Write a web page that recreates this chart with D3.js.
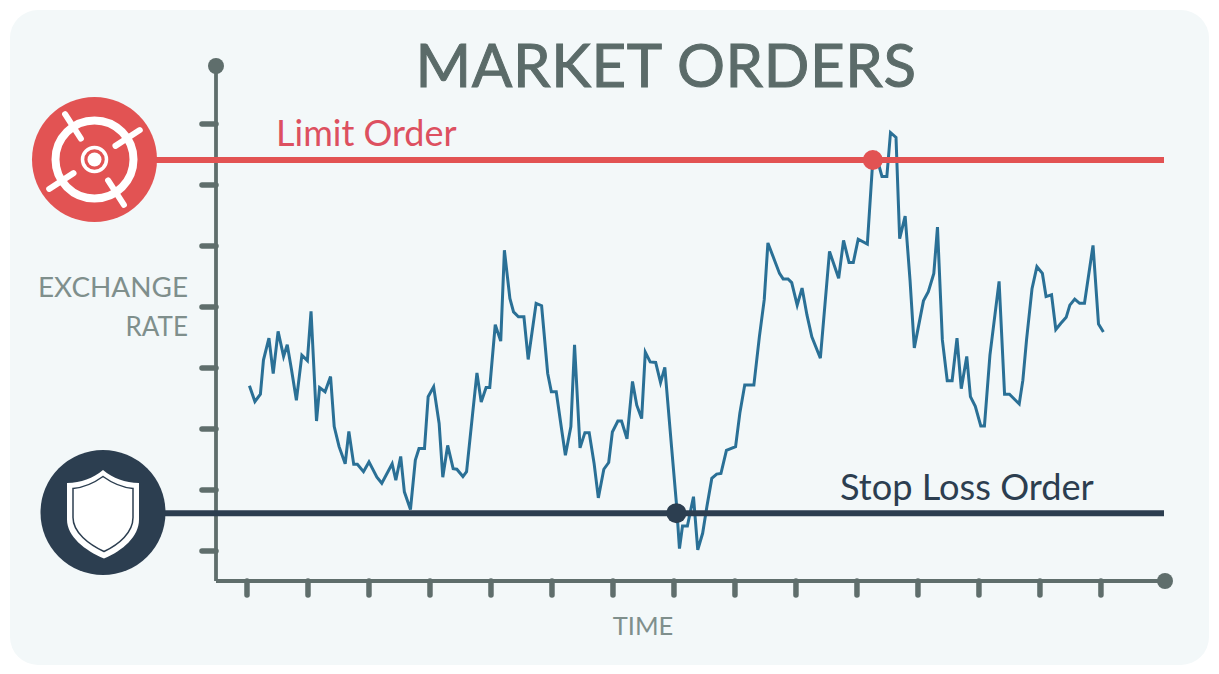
<!DOCTYPE html>
<html>
<head>
<meta charset="utf-8">
<script src="https://cdn.jsdelivr.net/npm/d3@7"></script>
<style>
  html, body { margin: 0; padding: 0; background: #fff; }
  svg { display: block; }
  text { font-family: Lato, "Open Sans", sans-serif; }
</style>
</head>
<body>
<div id="chart"></div>
<script>
// values, one axis tick = 10 units
const times = [
  0.4, 1.3, 2.2, 2.7, 3.6, 4.3, 5.1, 6.0, 6.6, 7.3, 8.1, 9.0, 9.9, 10.5, 11.4, 11.9, 12.8, 13.7, 14.3, 15.1,
  16.1, 16.7, 17.5, 18.1, 19.1, 20.0, 21.3, 22.1, 23.8, 24.4, 25.2, 25.8, 26.8, 27.6, 28.2, 29.1, 29.7, 30.6, 31.5, 32.1,
  32.9, 33.8, 34.4, 35.4, 36.0, 37.0, 37.7, 38.4, 39.2, 39.8, 40.7, 41.6, 42.2, 43.1, 43.7, 44.5, 45.4, 46.1, 47.4, 48.3,
  49.3, 49.9, 50.7, 51.6, 52.2, 53.1, 53.7, 54.6, 55.4, 56.1, 56.9, 57.6, 58.5, 59.3, 59.9, 60.8, 61.4, 62.3, 63.2, 63.9,
  64.7, 65.3, 66.1, 67.0, 67.8, 68.5, 69.6, 70.4, 70.9, 71.4, 72.2, 73.2, 73.9, 74.7, 75.4, 76.2, 77.0, 77.7, 78.6, 80.1,
  80.8, 81.6, 83.1, 84.0, 84.8, 85.4, 87.3, 87.9, 88.7, 89.3, 90.2, 91.0, 91.8, 92.6, 94.0, 95.5, 97.0, 97.8, 98.7, 99.4,
  100.2, 101.7, 102.6, 103.1, 104.1, 104.9, 105.5, 106.4, 107.0, 107.9, 108.7, 109.4, 110.9, 111.7, 112.6, 113.2, 114.0, 114.8, 115.6, 116.4,
  117.1, 118.0, 118.6, 119.4, 120.3, 120.9, 121.8, 123.3, 124.2, 125.0, 126.6, 127.2, 127.8, 128.7, 129.5, 130.4, 131.0, 131.9, 132.6, 133.4,
  134.3, 134.9, 135.7, 136.5, 137.3, 138.7, 139.6, 140.4
]
const rates = [
  27.1, 24.5, 25.7, 31.3, 34.9, 29.1, 36.0, 31.9, 33.8, 29.7, 24.7, 32.1, 31.2, 39.3, 21.3, 26.8, 26.1, 28.6, 20.4, 17.1,
  14.3, 19.6, 14.2, 14.2, 13.0, 14.6, 12.1, 11.1, 14.3, 11.6, 15.5, 9.7, 6.8, 14.9, 16.8, 16.8, 25.3, 26.9, 20.9, 12.1,
  17.3, 13.5, 13.4, 12.2, 13.0, 22.6, 29.2, 24.4, 26.8, 26.8, 37.1, 34.4, 49.3, 41.4, 39.2, 38.4, 38.4, 31.4, 40.6, 40.2,
  29.1, 26.1, 26.1, 19.8, 15.7, 20.4, 33.8, 16.9, 19.4, 19.4, 14.4, 8.7, 13.4, 14.5, 19.5, 21.3, 21.3, 18.4, 27.8, 23.9,
  21.7, 32.6, 31.0, 30.9, 27.6, 30.1, 17.1, 7.8, 0.4, 4.1, 4.1, 8.9, 0.2, 2.9, 7.3, 11.9, 12.6, 12.7, 16.5, 17.1,
  22.6, 27.2, 27.2, 35.1, 41.2, 50.5, 45.5, 44.6, 44.6, 44.0, 40.3, 43.1, 38.7, 35.1, 31.6, 49.1, 44.7, 50.9, 47.3, 47.3,
  51.1, 50.3, 64.1, 65.0, 61.4, 61.4, 68.6, 67.8, 51.2, 54.9, 44.4, 33.3, 41.0, 42.5, 45.5, 53.1, 34.6, 27.9, 27.9, 34.9,
  26.6, 31.9, 25.3, 23.7, 20.5, 20.5, 32.1, 44.2, 25.7, 25.7, 24.1, 28.0, 34.6, 43.0, 46.6, 45.5, 41.7, 42.0, 36.3, 37.3,
  38.3, 40.3, 41.3, 40.6, 40.6, 50.1, 37.2, 35.9
]
const timeTicks = [0, 10, 20, 30, 40, 50, 60, 70, 80, 90, 100, 110, 120, 130, 140]
const rateTicks = [0, 10, 20, 30, 40, 50, 60, 70]
const limitRate = 64.1
const stopRate = 6.2
const limitHit = {time: 102.6, rate: 64.1}
const stopHit = {time: 70.4, rate: 6.2}

const red = "#e25353"
const navy = "#2c3e50"
const axisColor = "#5f6e6c"

const svg = d3.select("#chart").append("svg")
    .attr("width", 1219)
    .attr("height", 674)

svg.append("rect")
    .attr("x", 10).attr("y", 10)
    .attr("width", 1199).attr("height", 655)
    .attr("rx", 28)
    .attr("fill", "#f3f8f9")

// scales run past the ticks so the axis lines reach the end dots
const x = d3.scaleLinear().domain([-5.08, 150.5]).range([216, 1165])
const y = d3.scaleLinear().domain([-4.92, 79.5]).range([581, 66])

const xAxis = d3.axisBottom(x).tickValues(timeTicks).tickFormat("").tickSizeInner(14).tickSizeOuter(0).offset(0)
const yAxis = d3.axisLeft(y).tickValues(rateTicks).tickFormat("").tickSizeInner(14).tickSizeOuter(0).offset(0)

const gx = svg.append("g").attr("transform", `translate(0,${y.range()[0]})`).call(xAxis)
const gy = svg.append("g").attr("transform", `translate(${x.range()[0]},0)`).call(yAxis)

gx.select(".domain").attr("stroke", axisColor).attr("stroke-width", 3.8)
gy.select(".domain").attr("stroke", axisColor).attr("stroke-width", 3.8)
gx.selectAll(".tick line").attr("stroke", axisColor).attr("stroke-width", 5.5).attr("stroke-linecap", "round")
gy.selectAll(".tick line").attr("stroke", axisColor).attr("stroke-width", 5.5).attr("stroke-linecap", "round")

svg.append("circle").attr("cx", x.range()[0]).attr("cy", y.range()[1]).attr("r", 8).attr("fill", axisColor)
svg.append("circle").attr("cx", x.range()[1]).attr("cy", y.range()[0]).attr("r", 8).attr("fill", axisColor)

// price line
const line = d3.line()
    .x(d => x(d[0]))
    .y(d => y(d[1]))

svg.append("path")
    .datum(d3.zip(times, rates))
    .attr("d", line)
    .attr("fill", "none")
    .attr("stroke", "#2a7096")
    .attr("stroke-width", 3)
    .attr("stroke-linejoin", "miter")

// order levels
svg.append("line")
    .attr("x1", 150).attr("x2", 1164)
    .attr("y1", y(limitRate)).attr("y2", y(limitRate))
    .attr("stroke", red).attr("stroke-width", 6)
svg.append("line")
    .attr("x1", 150).attr("x2", 1164)
    .attr("y1", y(stopRate)).attr("y2", y(stopRate))
    .attr("stroke", navy).attr("stroke-width", 6)

svg.append("circle").attr("cx", x(limitHit.time)).attr("cy", y(limitHit.rate)).attr("r", 10).attr("fill", red)
svg.append("circle").attr("cx", x(stopHit.time)).attr("cy", y(stopHit.rate)).attr("r", 10).attr("fill", navy)

// target icon
const target = svg.append("g").attr("transform", "translate(94.5,159.5)")
target.append("circle").attr("r", 62.5).attr("fill", red)
target.append("circle").attr("r", 39).attr("fill", "none").attr("stroke", "#fff").attr("stroke-width", 8)
target.append("circle").attr("r", 12).attr("fill", "none").attr("stroke", "#fff").attr("stroke-width", 3.5)
target.append("circle").attr("r", 7).attr("fill", "#fff")
target.selectAll("line.notch")
    .data([-123, -33, 57, 147])
    .join("line")
    .attr("class", "notch")
    .attr("x1", 25).attr("x2", 54)
    .attr("transform", d => `rotate(${d})`)
    .attr("stroke", "#fff").attr("stroke-width", 6).attr("stroke-linecap", "round")

// shield icon
const shield = svg.append("g").attr("transform", "translate(103,512.5)")
shield.append("circle").attr("r", 62.5).attr("fill", navy)
shield.append("path")
    .attr("d", "M0,-42.5 C10,-34 22,-30 36,-29.5 L36,7 C36,24 20,38 1,46 C-18,38 -36,24 -36,7 L-36,-29.5 C-22,-30 -10,-34 0,-42.5 Z")
    .attr("fill", "#fff")
shield.append("path")
    .attr("d", "M0,-36 C9,-29.5 19,-25 30,-24 L30,5 C30,20 16,32 1,39 C-14,32 -30,20 -30,5 L-30,-24 C-19,-25 -9,-29.5 0,-36 Z")
    .attr("fill", "#fff").attr("stroke", navy).attr("stroke-width", 1.5)

// text
svg.append("text")
    .attr("x", 666).attr("y", 87)
    .attr("text-anchor", "middle")
    .attr("font-size", 60)
    .attr("letter-spacing", 0.6)
    .attr("fill", "#5b6b69")
    .attr("stroke", "#5b6b69")
    .attr("stroke-width", 1)
    .text("MARKET ORDERS")

svg.append("text")
    .attr("x", 276).attr("y", 146)
    .attr("font-size", 36)
    .attr("fill", "#dd5060")
    .text("Limit Order")

svg.append("text")
    .attr("x", 840).attr("y", 500)
    .attr("font-size", 36.2)
    .attr("fill", navy)
    .text("Stop Loss Order")

const labelColor = "#7f8f8c"
svg.append("text").attr("x", 188).attr("y", 297).attr("text-anchor", "end")
    .attr("font-size", 27.9).attr("fill", labelColor).text("EXCHANGE")
svg.append("text").attr("x", 188).attr("y", 336).attr("text-anchor", "end")
    .attr("font-size", 26).attr("fill", labelColor).text("RATE")
svg.append("text").attr("x", 643).attr("y", 635).attr("text-anchor", "middle")
    .attr("font-size", 25.5).attr("fill", labelColor).text("TIME")
</script>
</body>
</html>
